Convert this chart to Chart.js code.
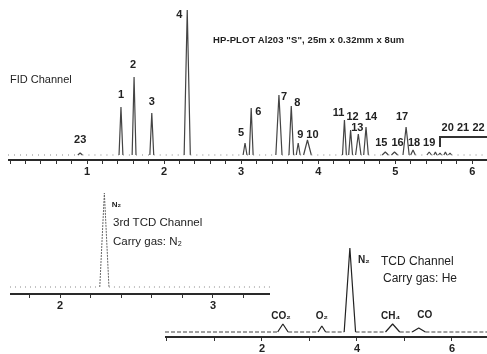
<!DOCTYPE html>
<html>
<head>
<meta charset="utf-8">
<script src="https://cdn.jsdelivr.net/npm/chart.js@4.4.1/dist/chart.umd.min.js"></script>
<style>
  body { margin: 0; background: #fff; width: 487px; height: 354px; overflow: hidden; position: relative;
         font-family: "Liberation Sans", Arial, sans-serif; color: #222; }
  canvas { position: absolute; }
  .txt { position: absolute; white-space: nowrap; line-height: 1; }
</style>
</head>
<body>
<canvas id="fid" width="479" height="180" style="left:8px;top:0"></canvas>
<canvas id="tcd3" width="260" height="134" style="left:10px;top:180px"></canvas>
<canvas id="tcd" width="322" height="114" style="left:165px;top:240px"></canvas>

<div class="txt" style="left:213px;top:35px;font-size:9.5px;font-weight:bold;letter-spacing:0.1px">HP-PLOT Al203 "S", 25m x 0.32mm x 8um</div>
<div class="txt" style="left:10px;top:74px;font-size:11px">FID Channel</div>
<div class="txt" style="left:113px;top:217px;font-size:11.5px">3rd TCD Channel</div>
<div class="txt" style="left:113px;top:236px;font-size:11.5px">Carry gas: N₂</div>
<div class="txt" style="left:381px;top:255px;font-size:12px">TCD Channel</div>
<div class="txt" style="left:383px;top:272px;font-size:12px">Carry gas: He</div>

<script>
// FID channel peaks (time in min, height in signal units)
const fidPeakNames = ['23','1','2','3','4','5','6','7','8','9','10','11','12','13','14','15','16','17','18','19','','','',''];
const fidPeakTimes = [0.91,1.44,1.61,1.84,2.30,3.05,3.13,3.49,3.65,3.74,3.86,4.34,4.42,4.52,4.62,4.87,4.99,5.14,5.23,5.44,5.52,5.58,5.65,5.71];
const fidPeakHeights = [2,48,78,42,145,12,47,60,49,12,15,35,25,21,28,3,3,28,5,3,3,2,3,2];
const fidPeakWidths = [0.03,0.025,0.025,0.025,0.04,0.025,0.025,0.04,0.03,0.025,0.05,0.025,0.025,0.035,0.03,0.04,0.04,0.04,0.03,0.03,0.02,0.02,0.02,0.02];
// peaks 20-22 bracket
const fidGroupNames = ['20','21','22'];
const fidGroupTimes = [5.68,5.88,6.08];
const fidBracketTimes = [5.58,5.58,6.19];
const fidBracketLevels = [8,18,18];

// 3rd TCD channel
const tcd3PeakNames = ['N₂'];
const tcd3PeakTimes = [2.29];
const tcd3PeakHeights = [94];
const tcd3PeakWidths = [0.03];

// TCD channel
const tcdPeakNames = ['CO₂','O₂','N₂','CH₄','CO'];
const tcdPeakTimes = [2.44,3.26,3.85,4.75,5.30];
const tcdPeakHeights = [8,6,84,8,4];
const tcdPeakWidths = [0.11,0.08,0.12,0.15,0.14];

// label nudges in px (dx, dy from the peak top)
const fidNudge = [[0,-13],[0,-12],[-1,-12],[0,-11],[-8,5],[-4,-10],[7,4],[5,2],[6,-3],[2,-8],[5,-5],[-6,-7],[2,-13],[-1,-6],[5,-10],[-4,-9],[3,-9],[-4,-10],[1,-7],[0,-9],[0,0],[0,0],[0,0],[0,0]];
const tcd3Nudge = [[12,12]];
const tcdNudge = [[-2,-8],[0,-10],[14,12],[-2,-8],[6,-13]];

function trace(times, heights, widths, xmin, xmax) {
    const pts = [{x: xmin, y: 0}];
    for (let i = 0; i < times.length; i++) {
        pts.push({x: times[i] - widths[i], y: 0});
        pts.push({x: times[i], y: heights[i]});
        pts.push({x: times[i] + widths[i], y: 0});
    }
    pts.push({x: xmax, y: 0});
    return pts;
}

function labelPlugin(items, font) {
    return {
        id: 'peaklabels',
        afterDatasetsDraw(chart) {
            const c = chart.ctx;
            const sx = chart.scales.x, sy = chart.scales.y;
            c.save();
            c.font = font;
            c.fillStyle = '#222';
            c.textAlign = 'center';
            c.textBaseline = 'middle';
            items.forEach(it => {
                if (!it.text) return;
                c.fillText(it.text, sx.getPixelForValue(it.x) + it.dx, sy.getPixelForValue(it.y) + it.dy);
            });
            c.restore();
        }
    };
}

function makechart(id, o) {
    const datasets = [{
        data: trace(o.times, o.heights, o.widths, o.xmin, o.xmax),
        borderColor: o.color,
        borderWidth: o.lineWidth,
        borderDash: o.peakDash || [],
        borderJoinStyle: 'bevel',
        pointRadius: 0,
        tension: 0,
        segment: {
            borderDash: ctx => (ctx.p0.parsed.y === 0 && ctx.p1.parsed.y === 0) ? o.baseDash : undefined,
            borderColor: ctx => (ctx.p0.parsed.y === 0 && ctx.p1.parsed.y === 0) ? o.baseColor : undefined
        }
    }].concat(o.extra || []);

    const items = o.names.map((n, i) => ({text: n, x: o.times[i], y: o.heights[i], dx: o.nudge[i][0], dy: o.nudge[i][1]}))
        .concat(o.extraLabels || []);

    return new Chart(document.getElementById(id), {
        type: 'line',
        data: {datasets: datasets},
        options: {
            responsive: false,
            animation: false,
            events: [],
            layout: {padding: 0},
            plugins: {legend: {display: false}, tooltip: {enabled: false}},
            scales: {
                x: {
                    type: 'linear',
                    min: o.xmin,
                    max: o.xmax,
                    afterFit: s => { s.height = o.axisH; },
                    border: {display: true, color: '#2a2a2a', width: 2},
                    grid: {drawOnChartArea: false, drawTicks: true, tickLength: 4, color: '#333', tickWidth: 1},
                    ticks: {
                        stepSize: o.step,
                        includeBounds: false,
                        autoSkip: false,
                        maxRotation: 0,
                        padding: 1,
                        color: '#222',
                        font: {family: 'Liberation Sans, Arial, sans-serif', size: 11, weight: 'bold'},
                        callback: v => (Number.isInteger(v) && v > 0 && v % o.every === 0) ? String(v) : ''
                    }
                },
                y: {display: false, min: o.ymin, max: o.ymax}
            }
        },
        plugins: [labelPlugin(items, o.font)]
    });
}

makechart('fid', {
    names: fidPeakNames, times: fidPeakTimes, heights: fidPeakHeights, widths: fidPeakWidths, nudge: fidNudge,
    xmin: -0.026, xmax: 6.19, ymin: -5, ymax: 155, step: 0.2, every: 1, axisH: 20,
    color: '#444', lineWidth: 1.2, baseDash: [1, 5], baseColor: '#888',
    font: 'bold 11px Liberation Sans, Arial, sans-serif',
    extra: [{
        data: fidBracketTimes.map((t, i) => ({x: t, y: fidBracketLevels[i]})),
        borderColor: '#333', borderWidth: 2, pointRadius: 0, tension: 0
    }],
    extraLabels: fidGroupNames.map((n, i) => ({text: n, x: fidGroupTimes[i], y: fidBracketLevels[2], dx: 0, dy: -9}))
});

makechart('tcd3', {
    names: tcd3PeakNames, times: tcd3PeakTimes, heights: tcd3PeakHeights, widths: tcd3PeakWidths, nudge: tcd3Nudge,
    xmin: 1.673, xmax: 3.373, ymin: -7, ymax: 107, step: 0.2, every: 1, axisH: 20,
    color: '#666', lineWidth: 1, peakDash: [2, 1], baseDash: [1, 4], baseColor: '#888',
    font: 'bold 8px Liberation Sans, Arial, sans-serif'
});

makechart('tcd', {
    names: tcdPeakNames, times: tcdPeakTimes, heights: tcdPeakHeights, widths: tcdPeakWidths, nudge: tcdNudge,
    xmin: -0.042, xmax: 6.737, ymin: -5, ymax: 92, step: 1, every: 2, axisH: 17,
    color: '#222', lineWidth: 1.2, baseDash: [4, 2], baseColor: '#444',
    font: 'bold 10px Liberation Sans, Arial, sans-serif'
});
</script>
</body>
</html>
